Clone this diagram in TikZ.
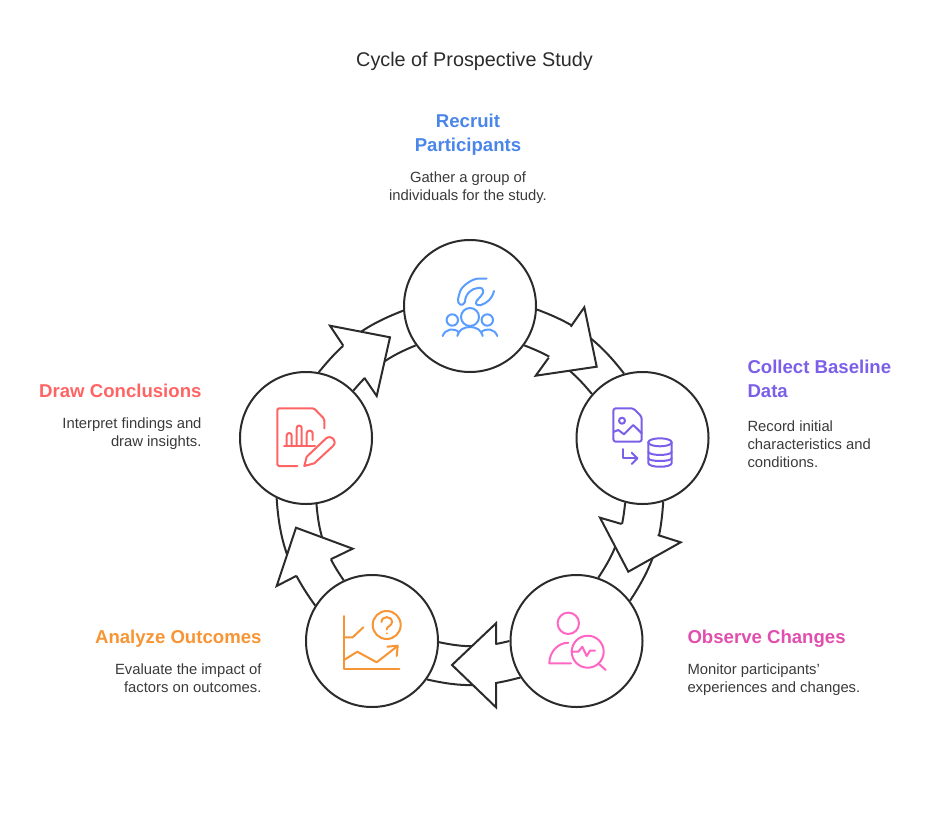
\documentclass[tikz,border=0pt]{standalone}
\usepackage{fontspec}
\setmainfont{Liberation Sans}
\usetikzlibrary{positioning}
\definecolor{ink}{HTML}{2B2B2B}
\definecolor{bodyc}{HTML}{3A3A3A}
\definecolor{bluec}{HTML}{4A86E8}
\definecolor{blueic}{HTML}{5B9DFF}
\definecolor{purplec}{HTML}{7B5FE8}
\definecolor{pinkc}{HTML}{E14FAE}
\definecolor{pinkic}{HTML}{FF66C4}
\definecolor{orangec}{HTML}{F79433}
\definecolor{redc}{HTML}{FF6464}
\begin{document}
\begin{tikzpicture}[x=1pt, y=-1pt, line width=2pt]
    \tikzstyle{stage}=[circle, draw=ink, fill=white, minimum size=132pt, inner sep=0pt, line width=2pt]
    \tikzstyle{band}=[draw=ink, line width=2pt]
    \tikzstyle{head}=[draw=ink, fill=white, line width=2pt, line join=miter]
    \tikzstyle{icon}=[line width=2pt, line cap=round, line join=round]
    \tikzstyle{title}=[inner sep=0pt, text=ink, font=\fontsize{19.8}{24}\selectfont]
    \tikzstyle{heading}=[inner sep=0pt, font=\bfseries\fontsize{18.6}{24}\selectfont]
    \tikzstyle{blurb}=[inner sep=0pt, text=bodyc, font=\fontsize{14.8}{18}\selectfont]

    \useasboundingbox (0,0) rectangle (949,816);

    \node[title] (title) at (474.5,61.5) {Cycle of Prospective Study};

    \node[stage] (recruit) at (470,306) {};
    \node[stage] (collect) at (642.5,438) {};
    \node[stage] (observe) at (576.5,641) {};
    \node[stage] (analyze) at (372,641) {};
    \node[stage] (draw) at (306,438) {};

    \draw[band] (recruit.-3.4) to[bend left=16] (collect.106.4);
    \draw[band] (recruit.-36.9) to[bend left=15] (collect.139.8);
    \draw[head] (570.7,326.7) -- (584.3,307.3) -- (596.7,366.7) -- (535.7,375.7) -- (548.7,357.7);

    \draw[band] (collect.-72.4) to[bend left=15] (observe.37.8);
    \draw[band] (collect.-105.8) to[bend left=14] (observe.71);
    \draw[head] (657.7,535) -- (680.7,542.3) -- (628.3,571.7) -- (600,517.7) -- (621.7,524);

    \draw[band] (observe.213.5) to[bend left=14] (analyze.-35);
    \draw[band] (observe.180) to[bend left=13] (analyze.-1);
    \draw[head] (496,682) -- (496,707.3) -- (452,665) -- (496,623.3) -- (496,644.7);

    \draw[band] (analyze.148.4) to[bend left=16] (draw.244);
    \draw[band] (analyze.115.2) to[bend left=15] (draw.-81.6);
    \draw[head] (296.7,575.7) -- (276.7,586) -- (296,527.7) -- (352.7,548.7) -- (330.7,559.3);

    \draw[band] (draw.79.4) to[bend left=15] (recruit.184.9);
    \draw[band] (draw.45.8) to[bend left=14] (recruit.216.9);
    \draw[head] (343.3,345.7) -- (330,325.7) -- (390,337.3) -- (376.7,396) -- (364.3,377.7);

    \node[heading, text=bluec, align=center, anchor=north] (recruithead) at (468,113) {Recruit\\Participants};
    \node[blurb, align=center, below=14pt of recruithead] (recruittext) {Gather a group of\\individuals for the study.};

    \node[heading, text=purplec, align=left, anchor=north west] (collecthead) at (746.5,359) {Collect Baseline\\Data};
    \node[blurb, align=left, below=21pt of collecthead.south west, anchor=north west] (collecttext) {Record initial\\characteristics and\\conditions.};

    \node[heading, text=pinkc, align=left, anchor=north west] (observehead) at (686.5,629) {Observe Changes};
    \node[blurb, align=left, below=14pt of observehead.south west, anchor=north west] (observetext) {Monitor participants'\\experiences and changes.};

    \node[heading, text=orangec, align=right, anchor=north east] (analyzehead) at (262.5,629) {Analyze Outcomes};
    \node[blurb, align=right, below=14pt of analyzehead.south east, anchor=north east] (analyzetext) {Evaluate the impact of\\factors on outcomes.};

    \node[heading, text=redc, align=right, anchor=north east] (drawhead) at (202.5,383) {Draw Conclusions};
    \node[blurb, align=right, below=18pt of drawhead.south east, anchor=north east] (drawtext) {Interpret findings and\\draw insights.};

    % participants
    \draw[icon, blueic] (470,317) circle (9);
    \draw[icon, blueic] (452.3,320) circle (5.7);
    \draw[icon, blueic] (487.3,320) circle (5.7);
    \draw[icon, blueic] (457.3,336) .. controls (459,324) and (481,324) .. (482.7,336);
    \draw[icon, blueic] (442.7,336) .. controls (445,329) and (454,327) .. (459.3,332.7);
    \draw[icon, blueic] (480.7,332.7) .. controls (486,327) and (495,329) .. (497.3,336);
    \draw[icon, blueic] (486.5,278.5) -- (479,278.5) .. controls (472,278.5) and (462,286) .. (460,291.5) -- (458,299) .. controls (457,305) and (463,307) .. (465,302) .. controls (465,294) and (472,288) .. (478,288) .. controls (485,287) and (484,293) .. (481,296) -- (476.5,301) .. controls (475,304) and (477,306) .. (481,305) .. controls (487,303) and (492,299) .. (494,291);

    % baseline data
    \draw[icon, purplec, rounded corners=2.5pt] (623,408.3) -- (633.3,408.3) -- (641.7,416.7) -- (641.7,441.7) -- (613.3,441.7) -- (613.3,408.3) -- (623,408.3);
    \draw[icon, purplec] (622,420.7) circle (3);
    \draw[icon, purplec] (614,431.7) -- (618.3,430) -- (624,434.3) -- (633.3,425) -- (641.7,433.3);
    \draw[icon, purplec] (622.7,449) -- (622.7,458.3) -- (637.3,458.3);
    \draw[icon, purplec] (631.7,452.7) -- (637.3,458.3) -- (631.7,464);
    \draw[icon, purplec] (660,442.3) ellipse (11.7 and 4);
    \draw[icon, purplec] (648.3,442.3) -- (648.3,463) .. controls (648.3,468) and (671.7,468) .. (671.7,463) -- (671.7,442.3);
    \draw[icon, purplec] (648.3,451.7) .. controls (648.3,456) and (671.7,456) .. (671.7,451.7);
    \draw[icon, purplec] (648.3,458) .. controls (648.3,462) and (671.7,462) .. (671.7,458);

    % monitored person
    \draw[icon, pinkic] (568.3,623.3) circle (10.7);
    \draw[icon, pinkic] (568.3,642.7) .. controls (558,642.7) and (549.3,652) .. (549.3,663.3) -- (571,663.3);
    \draw[icon, pinkic] (587.7,651.7) circle (16);
    \draw[icon, pinkic] (599,664) -- (605.7,670);
    \draw[icon, pinkic] (571.7,651.7) -- (578.3,651.7) -- (582.3,646.7) -- (586.7,656) -- (590,650.7) -- (595,650.7);

    % chart with question
    \draw[icon, orangec] (344,616) -- (344,669.3) -- (399.3,669.3);
    \draw[icon, orangec] (344,637.3) -- (352.7,637.3) -- (363.3,627.3);
    \draw[icon, orangec] (386.7,625) circle (14);
    \draw[icon, orangec] (381.5,622) .. controls (381.5,615.5) and (392,615.5) .. (392,622) .. controls (392,626) and (386.7,626) .. (386.7,629.5);
    \draw[icon, orangec] (386.7,633.3) -- (386.7,633.4);
    \draw[icon, orangec] (344,660) -- (357.3,651.7) -- (376.7,662.3) -- (396.7,646.7);
    \draw[icon, orangec] (387.3,646.7) -- (397.7,645.7) -- (396.7,656);

    % report and pencil
    \draw[icon, redc, rounded corners=1.5pt] (324.3,428.3) -- (324.3,419) -- (314,408.3) -- (277.3,408.3) -- (277.3,466) -- (297.3,466);
    \draw[icon, redc] (284,446) -- (315,446);
    \draw[icon, redc] (286.7,446) -- (286.7,435.5) arc (180:360:2.5) -- (291.7,446);
    \draw[icon, redc] (296.7,446) -- (296.7,428) arc (180:360:2.5) -- (301.7,446);
    \draw[icon, redc] (306.7,446) -- (306.7,433.5) arc (180:360:3) -- (312.7,440);
    \draw[icon, redc] (304.3,466) -- (306.7,456.7) -- (326,438.5) .. controls (331,434) and (338,441) .. (333,446) -- (314.3,463.3) -- cycle;
\end{tikzpicture}
\end{document}
